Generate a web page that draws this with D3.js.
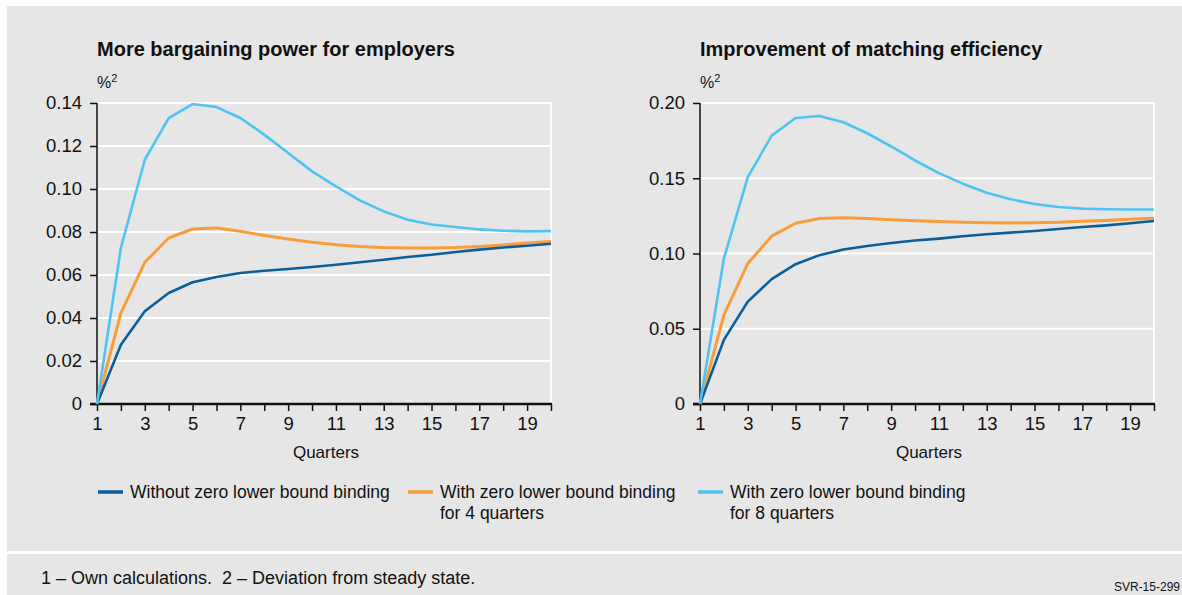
<!DOCTYPE html>
<html><head><meta charset="utf-8">
<script src="https://cdn.jsdelivr.net/npm/d3@7"></script>
<style>
html,body{margin:0;padding:0;background:#fff;}
svg{display:block;}
text{font-family:"Liberation Sans",Arial,sans-serif;fill:#111;}
</style></head>
<body>
<svg id="chart" width="1182" height="595"></svg>
<script>
// ---- data ----
const quarters = d3.range(1, 21);
const xTickLabels = [1,3,5,7,9,11,13,15,17,19];

const titles = ["More bargaining power for employers", "Improvement of matching efficiency"];
const seriesNames = ["Without zero lower bound binding", "With zero lower bound binding|for 4 quarters", "With zero lower bound binding|for 8 quarters"];
const seriesColors = ["#0b5e9c", "#f99d3a", "#4fc4f2"];

const leftYTicks = [0, 0.02, 0.04, 0.06, 0.08, 0.10, 0.12, 0.14];
const leftYLabels = ["0", "0.02", "0.04", "0.06", "0.08", "0.10", "0.12", "0.14"];
const rightYTicks = [0, 0.05, 0.10, 0.15, 0.20];
const rightYLabels = ["0", "0.05", "0.10", "0.15", "0.20"];

// left panel: bargaining power
const leftNoZLB = [0, 0.0276, 0.0431, 0.0516, 0.0566, 0.0591, 0.0609, 0.0620, 0.0628, 0.0637, 0.0648, 0.0659, 0.0671, 0.0684, 0.0694, 0.0707, 0.0718, 0.0728, 0.0736, 0.0745];
const leftZLB4 = [0, 0.0423, 0.0659, 0.0772, 0.0814, 0.0819, 0.0803, 0.0784, 0.0767, 0.0752, 0.0741, 0.0733, 0.0728, 0.0726, 0.0726, 0.0728, 0.0733, 0.0740, 0.0749, 0.0756];
const leftZLB8 = [0, 0.0726, 0.1136, 0.1330, 0.1395, 0.1381, 0.1330, 0.1253, 0.1167, 0.1082, 0.1012, 0.0947, 0.0896, 0.0857, 0.0835, 0.0823, 0.0812, 0.0806, 0.0803, 0.0804];

// right panel: matching efficiency
const rightNoZLB = [0, 0.0426, 0.0680, 0.0830, 0.0929, 0.0989, 0.1026, 0.1050, 0.1070, 0.1086, 0.1099, 0.1115, 0.1128, 0.1139, 0.1150, 0.1163, 0.1176, 0.1187, 0.1201, 0.1216];
const rightZLB4 = [0, 0.0591, 0.0934, 0.1115, 0.1201, 0.1232, 0.1238, 0.1232, 0.1225, 0.1218, 0.1212, 0.1207, 0.1205, 0.1203, 0.1205, 0.1207, 0.1214, 0.1220, 0.1227, 0.1234];
const rightZLB8 = [0, 0.0967, 0.1507, 0.1783, 0.1900, 0.1914, 0.1872, 0.1799, 0.1711, 0.1618, 0.1534, 0.1464, 0.1404, 0.1360, 0.1329, 0.1309, 0.1298, 0.1294, 0.1292, 0.1292];

const footnote = "1 – Own calculations.  2 – Deviation from steady state.";
const code = "SVR-15-299";

// ---- drawing ----
const svg = d3.select("#chart");
svg.append("rect").attr("x", 7).attr("y", 6).attr("width", 1175).attr("height", 545).attr("fill", "#e6e6e6");
svg.append("rect").attr("x", 7).attr("y", 554).attr("width", 1175).attr("height", 41).attr("fill", "#e6e6e6");

const panels = [
  {title: titles[0], ticks: leftYTicks, labels: leftYLabels, series: [leftNoZLB, leftZLB4, leftZLB8], x0: 97, x1: 551},
  {title: titles[1], ticks: rightYTicks, labels: rightYLabels, series: [rightNoZLB, rightZLB4, rightZLB8], x0: 700, x1: 1154}
];
const yTop = 103, yBot = 404;

panels.forEach(p => {
  const g = svg.append("g");
  const x = d3.scaleLinear().domain([1, 20]).range([p.x0, p.x1]);
  const y = d3.scaleLinear().domain([0, d3.max(p.ticks)]).range([yBot, yTop]);

  g.append("text").attr("x", p.x0).attr("y", 56).attr("font-size", 20).attr("font-weight", "bold").text(p.title);
  const u = g.append("text").attr("x", p.x0).attr("y", 88).attr("font-size", 16);
  u.append("tspan").text("%");
  u.append("tspan").attr("dy", -6).attr("font-size", 11).text("2");

  // gridlines
  g.selectAll(".grid").data(p.ticks.filter(t => t > 0)).join("line")
    .attr("x1", p.x0).attr("x2", p.x1).attr("y1", d => y(d)).attr("y2", d => y(d))
    .attr("stroke", "#fff").attr("stroke-width", 2);
  g.append("line").attr("x1", p.x1).attr("x2", p.x1).attr("y1", yTop - 1).attr("y2", yBot)
    .attr("stroke", "#fff").attr("stroke-width", 2);

  // y axis
  const ya = g.append("g").attr("transform", `translate(${p.x0},0)`)
    .call(d3.axisLeft(y).tickValues(p.ticks).tickFormat((d, i) => p.labels[i]).tickSize(7).tickPadding(8));
  ya.select(".domain").remove();
  ya.append("line").attr("x1", 0).attr("x2", 0).attr("y1", yTop).attr("y2", yBot).attr("stroke", "#111").attr("stroke-width", 1.5);
  ya.selectAll(".tick line").attr("stroke", "#111").attr("stroke-width", 1.5);
  ya.selectAll(".tick text").attr("font-size", 18.5).attr("fill", "#111").attr("font-family", '"Liberation Sans",Arial,sans-serif');

  // x axis
  const xa = g.append("g").attr("transform", `translate(0,${yBot})`)
    .call(d3.axisBottom(x).tickValues(quarters).tickFormat(d => xTickLabels.includes(d) ? d : "").tickSize(7).tickPadding(6));
  xa.select(".domain").remove();
  xa.append("line").attr("x1", p.x0 - 7).attr("x2", p.x1 + 1).attr("y1", 0).attr("y2", 0).attr("stroke", "#111").attr("stroke-width", 2.5);
  xa.selectAll(".tick line").attr("stroke", "#111").attr("stroke-width", 1.5);
  xa.selectAll(".tick text").attr("font-size", 18.5).attr("fill", "#111").attr("font-family", '"Liberation Sans",Arial,sans-serif');

  g.append("text").attr("x", (p.x0 + p.x1) / 2 + 2).attr("y", 458).attr("text-anchor", "middle").attr("font-size", 17).text("Quarters");

  const line = d3.line().x((d, i) => x(quarters[i])).y(d => y(d));
  [1, 0, 2].forEach(si => {
    g.append("path").datum(p.series[si]).attr("d", line).attr("fill", "none")
      .attr("stroke", seriesColors[si]).attr("stroke-width", si === 1 ? 3 : 2.6).attr("stroke-linejoin", "round");
  });
});

// legend
const legendX = [98, 408, 698];
seriesNames.forEach((name, i) => {
  const lg = svg.append("g");
  lg.append("line").attr("x1", legendX[i]).attr("x2", legendX[i] + 25).attr("y1", 492).attr("y2", 492)
    .attr("stroke", seriesColors[i]).attr("stroke-width", 3.5);
  name.split("|").forEach((ln, j) => {
    lg.append("text").attr("x", legendX[i] + 32).attr("y", 498 + j * 21).attr("font-size", 17.5).text(ln);
  });
});

svg.append("text").attr("x", 41).attr("y", 584).attr("font-size", 18).style("white-space", "pre").text(footnote);
svg.append("text").attr("x", 1180).attr("y", 591).attr("text-anchor", "end").attr("font-size", 12).text(code);
</script>
</body></html>
